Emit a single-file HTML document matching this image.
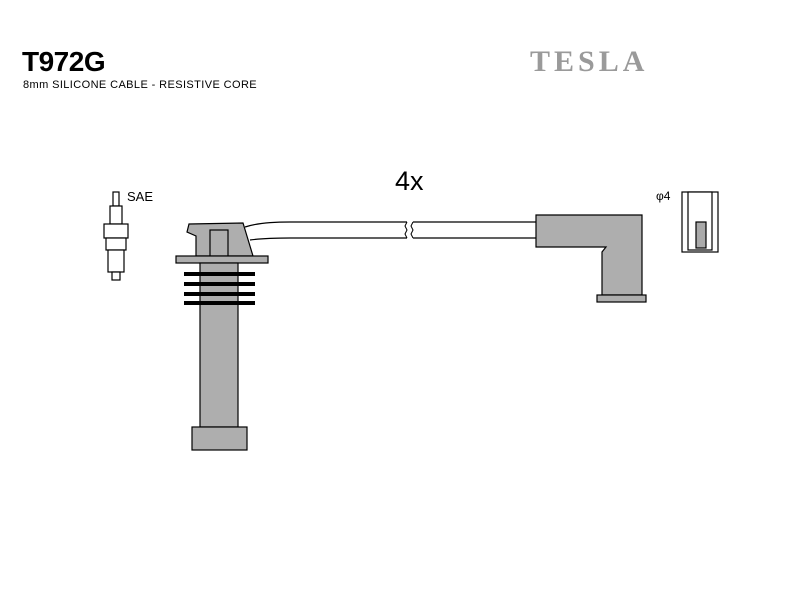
<!DOCTYPE html>
<html><head><meta charset="utf-8"><style>
body{margin:0;background:#fff;width:800px;height:600px;overflow:hidden;position:relative;font-family:"Liberation Sans",sans-serif}
.t{position:absolute;white-space:nowrap}
</style></head><body>
<div class="t" style="left:22px;top:46px;font-size:28px;font-weight:bold;letter-spacing:-0.5px">T972G</div>
<div class="t" style="left:23px;top:79px;font-size:11px;letter-spacing:0.4px">8mm SILICONE CABLE - RESISTIVE CORE</div>
<div class="t" style="left:530px;top:45px;font-size:30px;font-weight:bold;font-family:'Liberation Serif',serif;color:#9a9a9a;letter-spacing:4px">TESLA</div>
<div class="t" style="left:395px;top:166px;font-size:27px">4x</div>
<div class="t" style="left:127px;top:189px;font-size:13px">SAE</div>
<div class="t" style="left:656px;top:189px;font-size:12px">φ4</div>
<svg width="800" height="600" style="position:absolute;left:0;top:0" stroke="#000" stroke-width="1.2">
<path d="M245,227 Q260,222 290,222 L407,222 M413,222 L538,222 M250,240 Q265,238 290,238 L407,238 M413,238 L538,238" fill="none"/>
<path d="M407,222 l-2,4 2,4 -2,4 2,4 M413,222 l-2,4 2,4 -2,4 2,4" fill="none" stroke-width="1"/>
<g fill="#aeaeae">
<path d="M189,224 L243,223 L253,256 L196,256 L196,236 L187,232 Z"/>
<rect x="210" y="230" width="18" height="26"/>
<rect x="176" y="256" width="92" height="7"/>
<rect x="200" y="263" width="38" height="164"/>
<rect x="192" y="427" width="55" height="23"/>
</g>
<g fill="#000" stroke="none">
<rect x="184" y="272" width="71" height="4"/>
<rect x="184" y="282" width="71" height="4"/>
<rect x="184" y="292" width="71" height="4"/>
<rect x="184" y="301" width="71" height="4"/>
</g>
<g fill="#aeaeae">
<path d="M536,215 L642,215 L642,295 L602,295 L602,252 L606,247 L536,247 Z"/>
<rect x="597" y="295" width="49" height="7"/>
</g>
<g fill="#fff">
<rect x="113" y="192" width="6" height="14"/>
<rect x="110" y="206" width="12" height="18"/>
<rect x="104" y="224" width="24" height="14"/>
<rect x="106" y="238" width="20" height="12"/>
<rect x="108" y="250" width="16" height="22"/>
<rect x="112" y="272" width="8" height="8"/>
</g>
<g fill="#fff">
<rect x="682" y="192" width="36" height="60"/>
<rect x="688" y="192" width="24" height="58"/>
<rect x="696" y="222" width="10" height="26" fill="#aaa"/>
</g>
</svg>
</body></html>
